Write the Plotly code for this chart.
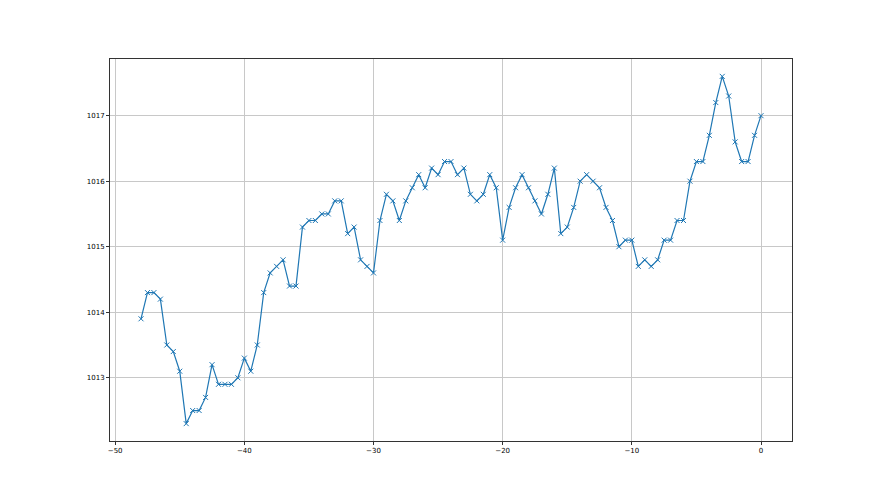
import plotly.graph_objects as go

x_vals = [-48 + 0.5 * i for i in range(97)]
pressure = [
    1013.9, 1014.3, 1014.3, 1014.2, 1013.5, 1013.4, 1013.1, 1012.3, 1012.5, 1012.5,
    1012.7, 1013.2, 1012.9, 1012.9, 1012.9, 1013.0, 1013.3, 1013.1, 1013.5, 1014.3,
    1014.6, 1014.7, 1014.8, 1014.4, 1014.4, 1015.3, 1015.4, 1015.4, 1015.5, 1015.5,
    1015.7, 1015.7, 1015.2, 1015.3, 1014.8, 1014.7, 1014.6, 1015.4, 1015.8, 1015.7,
    1015.4, 1015.7, 1015.9, 1016.1, 1015.9, 1016.2, 1016.1, 1016.3, 1016.3, 1016.1,
    1016.2, 1015.8, 1015.7, 1015.8, 1016.1, 1015.9, 1015.1, 1015.6, 1015.9, 1016.1,
    1015.9, 1015.7, 1015.5, 1015.8, 1016.2, 1015.2, 1015.3, 1015.6, 1016.0, 1016.1,
    1016.0, 1015.9, 1015.6, 1015.4, 1015.0, 1015.1, 1015.1, 1014.7, 1014.8, 1014.7,
    1014.8, 1015.1, 1015.1, 1015.4, 1015.4, 1016.0, 1016.3, 1016.3, 1016.7, 1017.2,
    1017.6, 1017.3, 1016.6, 1016.3, 1016.3, 1016.7, 1017.0,
]
x_ticks = [-50, -40, -30, -20, -10, 0]
y_ticks = [1013, 1014, 1015, 1016, 1017]

fig = go.Figure(go.Scatter(
    x=x_vals, y=pressure, mode="lines+markers",
    line=dict(color="#1f77b4", width=1.2),
    marker=dict(symbol="x-thin", size=5, line=dict(color="#1f77b4", width=1)),
))

pad_x = (max(x_vals) - min(x_vals)) * 0.05
pad_y = (max(pressure) - min(pressure)) * 0.05
axis_common = dict(
    showline=True, linecolor="#333333", linewidth=1, mirror=True,
    ticks="outside", ticklen=3, tickcolor="#333333",
    showgrid=True, gridcolor="#c8c8c8", gridwidth=1, zeroline=False,
    tickfont=dict(family="DejaVu Sans", size=7, color="#000000"),
)
fig.update_xaxes(range=[min(x_vals) - pad_x, max(x_vals) + pad_x],
                 tickvals=x_ticks, ticktext=[f"\u2212{abs(v)}" if v < 0 else str(v) for v in x_ticks],
                 **axis_common)
fig.update_yaxes(range=[min(pressure) - pad_y, max(pressure) + pad_y],
                 tickvals=y_ticks, **axis_common)
fig.update_layout(
    width=880, height=495,
    margin=dict(l=102, r=96, t=51, b=62),
    paper_bgcolor="white", plot_bgcolor="white",
    showlegend=False,
)
fig.write_html("out.html")
